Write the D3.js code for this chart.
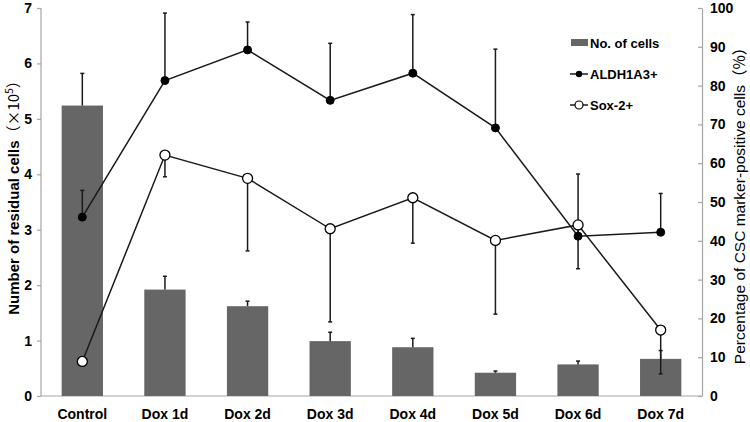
<!DOCTYPE html>
<html><head><meta charset="utf-8">
<script src="https://cdn.jsdelivr.net/npm/d3@7"></script>
<style>
html,body{margin:0;padding:0;background:#fff;}
svg{display:block;}
</style></head>
<body>
<svg id="chart" width="750" height="422"></svg>
<script>
const categories = ["Control","Dox 1d","Dox 2d","Dox 3d","Dox 4d","Dox 5d","Dox 6d","Dox 7d"];
const cellCounts = [5.24, 1.92, 1.62, 0.99, 0.88, 0.42, 0.57, 0.67];
const cellCountErr = [0.58, 0.24, 0.09, 0.16, 0.16, 0.03, 0.06, 0.15];
const aldhValues = [46.1, 81.3, 89.2, 76.2, 83.2, 69.1, 41.2, 42.2];
const aldhErr = [6.9, 17.4, 7.2, 14.7, 15.1, 20.3, 16.0, 10.0];
const soxValues = [8.9, 62.1, 56.1, 43.1, 51.1, 40.1, 44.1, 17.0];
const soxErr = [0, 5.6, 18.7, 24.0, 11.7, 19.0, 11.3, 11.3];
const leftTicks = [0,1,2,3,4,5,6,7];
const rightTicks = [0,10,20,30,40,50,60,70,80,90,100];

const svg = d3.select("#chart");
const axisColor = "#a6a6a6";
const lineColor = "#1a1a1a";
const barColor = "#666666";
const narrow = "'Liberation Sans Narrow','Arial Narrow','Liberation Sans',Arial,sans-serif";
const sans = "'Liberation Sans',Arial,'Noto Sans CJK JP',sans-serif";
const cjk = "'Noto Sans CJK JP',sans-serif";

const x = d3.scaleBand().domain(categories).range([41, 702]).paddingInner(0.5).paddingOuter(0.25);
const yL = d3.scaleLinear().domain([0, 7]).range([396, 8]);
const yR = d3.scaleLinear().domain([0, 100]).range([396, 8]);
const cx = c => x(c) + x.bandwidth() / 2;

// Left axis
const gL = svg.append("g").attr("transform", "translate(41,0)")
  .call(d3.axisLeft(yL).tickValues(leftTicks).tickSize(4).tickPadding(5).tickFormat(d3.format("d")));
gL.selectAll("path,line").attr("stroke", axisColor).attr("stroke-width", 1.2);
gL.select(".domain").attr("d", "M0,396V8");
gL.selectAll("text").attr("font-family", narrow).attr("font-weight", "bold").attr("font-size", 14).attr("fill", "#000");

// Right axis (ticks inward)
const gR = svg.append("g").attr("transform", "translate(702,0)")
  .call(d3.axisRight(yR).tickValues(rightTicks).tickSizeInner(-4).tickSizeOuter(0).tickPadding(8));
gR.selectAll("path,line").attr("stroke", axisColor).attr("stroke-width", 1.2);
gR.selectAll("text").attr("font-family", narrow).attr("font-weight", "bold").attr("font-size", 14).attr("fill", "#000");

// Bottom axis
const gB = svg.append("g").attr("transform", "translate(0,396)")
  .call(d3.axisBottom(x).tickSize(0).tickPadding(13));
gB.select(".domain").attr("stroke", axisColor).attr("stroke-width", 1.2).attr("d", "M41,0H702");
gB.selectAll("text").attr("font-family", narrow).attr("font-weight", "bold").attr("font-size", 14).attr("fill", "#000");

// Bars
svg.append("g").selectAll("rect").data(categories).join("rect")
  .attr("x", d => x(d)).attr("width", x.bandwidth())
  .attr("y", (d,i) => yL(cellCounts[i])).attr("height", (d,i) => yL(0) - yL(cellCounts[i]))
  .attr("fill", barColor);

// Bar error bars (plus)
const gBE = svg.append("g").attr("stroke", lineColor).attr("stroke-width", 1.5);
categories.forEach((c,i) => {
  const top = yL(cellCounts[i] + cellCountErr[i]);
  gBE.append("line").attr("x1", cx(c)).attr("x2", cx(c)).attr("y1", yL(cellCounts[i])).attr("y2", top);
  gBE.append("line").attr("x1", cx(c)-2).attr("x2", cx(c)+2).attr("y1", top).attr("y2", top);
});

// Lines
const line = d3.line().x((d,i) => cx(categories[i])).y(d => yR(d));
svg.append("path").datum(aldhValues).attr("d", line).attr("fill", "none").attr("stroke", lineColor).attr("stroke-width", 1.5);
svg.append("path").datum(soxValues).attr("d", line).attr("fill", "none").attr("stroke", lineColor).attr("stroke-width", 1.5);

// Line error bars: ALDH plus, Sox minus
const gLE = svg.append("g").attr("stroke", lineColor).attr("stroke-width", 1.5);
categories.forEach((c,i) => {
  if (aldhErr[i] > 0) {
    const t = yR(aldhValues[i] + aldhErr[i]);
    gLE.append("line").attr("x1", cx(c)).attr("x2", cx(c)).attr("y1", yR(aldhValues[i])).attr("y2", t);
    gLE.append("line").attr("x1", cx(c)-2).attr("x2", cx(c)+2).attr("y1", t).attr("y2", t);
  }
  if (soxErr[i] > 0) {
    const b = yR(soxValues[i] - soxErr[i]);
    gLE.append("line").attr("x1", cx(c)).attr("x2", cx(c)).attr("y1", yR(soxValues[i])).attr("y2", b);
    gLE.append("line").attr("x1", cx(c)-2).attr("x2", cx(c)+2).attr("y1", b).attr("y2", b);
  }
});

// Markers
svg.append("g").selectAll("circle").data(aldhValues).join("circle")
  .attr("cx", (d,i) => cx(categories[i])).attr("cy", d => yR(d)).attr("r", 4)
  .attr("fill", "#000").attr("stroke", "#000").attr("stroke-width", 1);
svg.append("g").selectAll("circle").data(soxValues).join("circle")
  .attr("cx", (d,i) => cx(categories[i])).attr("cy", d => yR(d)).attr("r", 5)
  .attr("fill", "#fff").attr("stroke", "#000").attr("stroke-width", 1.3);

// Axis titles
const lt = svg.append("text").attr("transform", "translate(19,194) rotate(-90)")
  .attr("text-anchor", "middle").attr("font-family", sans).attr("font-weight", "bold").attr("font-size", 15).attr("fill", "#000");
lt.append("tspan").text("Number of residual cells");
lt.append("tspan").attr("font-family", cjk).attr("font-weight", "normal").text("（×10");
lt.append("tspan").attr("font-family", cjk).attr("font-weight", "normal").attr("font-size", 10).attr("dy", -6).text("5");
lt.append("tspan").attr("font-family", cjk).attr("font-weight", "normal").attr("dy", 6).text("）");

const rt = svg.append("text").attr("transform", "translate(745,202) rotate(-90)")
  .attr("text-anchor", "middle").attr("font-family", sans).attr("font-size", 15.5).attr("fill", "#000");
rt.append("tspan").text("Percentage of CSC marker-positive cells");
rt.append("tspan").attr("font-family", cjk).text("（%）");

// Legend
const leg = svg.append("g").attr("font-family", sans).attr("font-weight", "bold").attr("font-size", 13);
leg.append("rect").attr("x", 571).attr("y", 39).attr("width", 17).attr("height", 7).attr("fill", barColor);
leg.append("text").attr("x", 590).attr("y", 47.5).text("No. of cells");
leg.append("line").attr("x1", 570).attr("x2", 588).attr("y1", 74).attr("y2", 74).attr("stroke", lineColor).attr("stroke-width", 1.5);
leg.append("circle").attr("cx", 579).attr("cy", 74).attr("r", 3.2).attr("fill", "#000");
leg.append("text").attr("x", 590).attr("y", 79).text("ALDH1A3+");
leg.append("line").attr("x1", 570).attr("x2", 588).attr("y1", 105).attr("y2", 105).attr("stroke", lineColor).attr("stroke-width", 1.5);
leg.append("circle").attr("cx", 579).attr("cy", 105).attr("r", 4).attr("fill", "#fff").attr("stroke", "#000").attr("stroke-width", 1.2);
leg.append("text").attr("x", 590).attr("y", 110).text("Sox-2+");
</script>
</body></html>
